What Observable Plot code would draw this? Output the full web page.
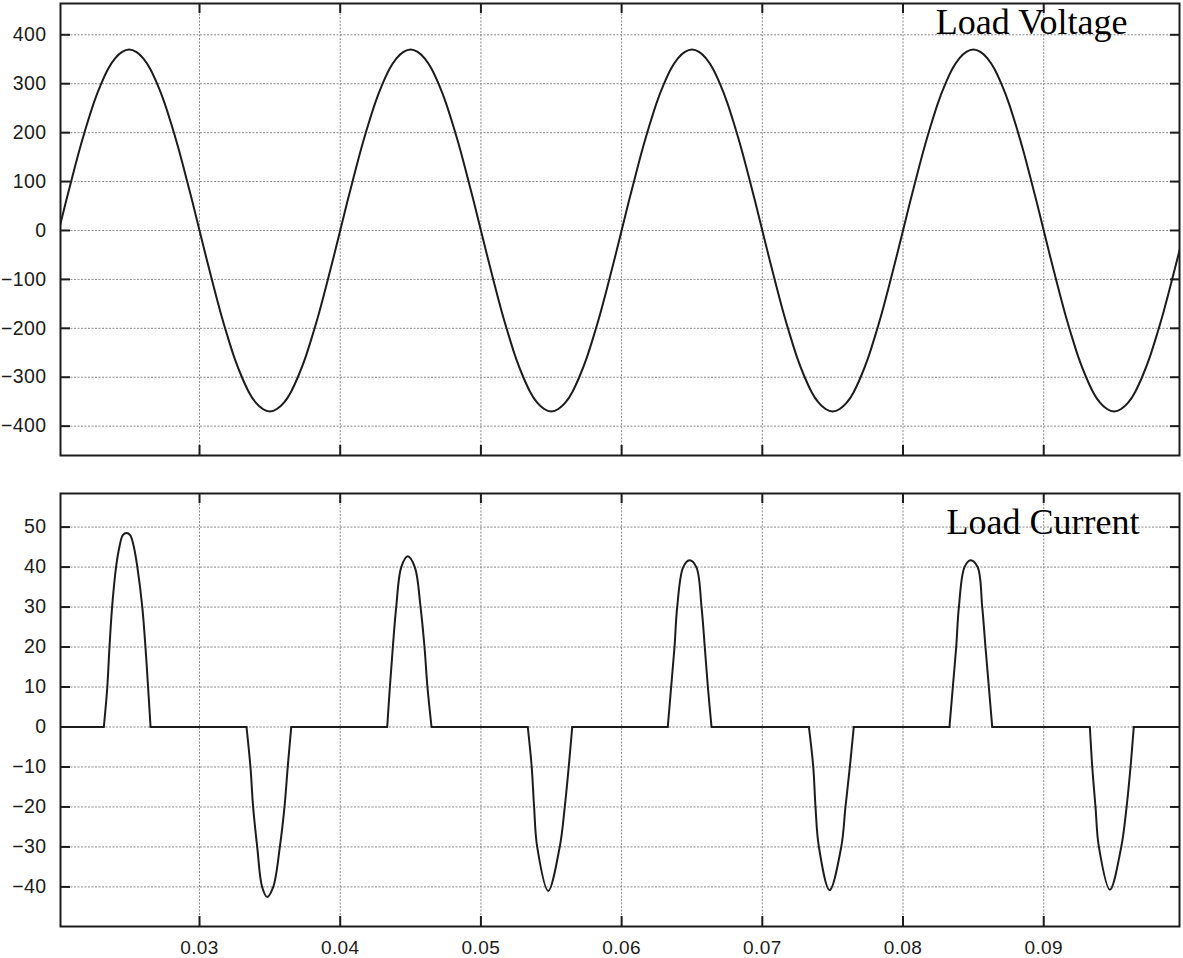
<!DOCTYPE html>
<html><head><meta charset="utf-8">
<script src="https://cdn.jsdelivr.net/npm/d3@7"></script>
<script src="https://cdn.jsdelivr.net/npm/@observablehq/plot@0.6"></script>
<style>
html,body{margin:0;padding:0;background:#fff;}
#chart svg{display:block;}
#chart g[aria-label$="tick label"] text{letter-spacing:0.4px;}
</style></head><body><div id="chart"></div>
<script>
// ---- data ----
const xDomain = [0.02012, 0.09965];
const xTicks = [0.03, 0.04, 0.05, 0.06, 0.07, 0.08, 0.09];
const xTickLabels = ["0.03", "0.04", "0.05", "0.06", "0.07", "0.08", "0.09"];
const vTicks = [-400, -300, -200, -100, 0, 100, 200, 300, 400];
const iTicks = [-40, -30, -20, -10, 0, 10, 20, 30, 40, 50];
const vDomain = [-460, 464];
const iDomain = [-49.9, 58.4];

// load voltage, sampled every 0.5 ms starting at t = 0.02 s
const vStart = 0.02, vStep = 0.0005;
const voltage = [
  0, 58, 114, 168, 217, 262, 299, 330, 352, 365, 370, 365, 352, 330, 299, 262, 217, 168, 114, 58,
  0, -58, -114, -168, -217, -262, -299, -330, -352, -365, -370, -365, -352, -330, -299, -262, -217, -168, -114, -58,
  0, 58, 114, 168, 217, 262, 299, 330, 352, 365, 370, 365, 352, 330, 299, 262, 217, 168, 114, 58,
  0, -58, -114, -168, -217, -262, -299, -330, -352, -365, -370, -365, -352, -330, -299, -262, -217, -168, -114, -58,
  0, 58, 114, 168, 217, 262, 299, 330, 352, 365, 370, 365, 352, 330, 299, 262, 217, 168, 114, 58,
  0, -58, -114, -168, -217, -262, -299, -330, -352, -365, -370, -365, -352, -330, -299, -262, -217, -168, -114, -58,
  0, 58, 114, 168, 217, 262, 299, 330, 352, 365, 370, 365, 352, 330, 299, 262, 217, 168, 114, 58,
  0, -58, -114, -168, -217, -262, -299, -330, -352, -365, -370, -365, -352, -330, -299, -262, -217, -168, -114, -58,
  0
];

// load current (time, amps)
const currentT = [
  0.02,
  0.02320, 0.02344, 0.02360, 0.02379, 0.02408, 0.02431, 0.02455, 0.02481, 0.02507, 0.02533, 0.02557, 0.02593, 0.02616, 0.02635, 0.02652,
  0.03334, 0.03362, 0.03381, 0.03410, 0.03445, 0.03481, 0.03524, 0.03571, 0.03604, 0.03627, 0.03652,
  0.04334, 0.04353, 0.04374, 0.04398, 0.04434, 0.04480, 0.04530, 0.04571, 0.04599, 0.04620, 0.04649,
  0.05333, 0.05361, 0.05378, 0.05400, 0.05478, 0.05560, 0.05596, 0.05624, 0.05649,
  0.06328, 0.06352, 0.06376, 0.06395, 0.06438, 0.06483, 0.06531, 0.06568, 0.06591, 0.06613, 0.06639,
  0.07331, 0.07362, 0.07378, 0.07402, 0.07478, 0.07561, 0.07591, 0.07622, 0.07650,
  0.08330, 0.08354, 0.08378, 0.08397, 0.08437, 0.08480, 0.08530, 0.08563, 0.08586, 0.08610, 0.08634,
  0.09328, 0.09345, 0.09368, 0.09392, 0.09470, 0.09551, 0.09589, 0.09617, 0.09640,
  0.1
];
const currentI = [
  0,
  0, 9.7, 19.9, 30.1, 40.3, 45.1, 48.0, 48.5, 48.0, 45.1, 40.3, 30.1, 19.9, 9.7, 0,
  0, -10, -20, -30, -40, -42.5, -40, -30, -20, -10, 0,
  0, 10, 20, 30, 40, 42.7, 40, 30, 20, 10, 0,
  0, -10, -20, -30, -41, -30, -20, -10, 0,
  0, 10, 20, 30, 40, 41.7, 40, 30, 20, 10, 0,
  0, -10, -20, -30, -40.8, -30, -20, -10, 0,
  0, 10, 20, 30, 40, 41.7, 40, 30, 20, 10, 0,
  0, -10, -20, -30, -40.7, -30, -20, -10, 0,
  0
];

// ---- tables for the library ----
const vData = voltage.map((v, i) => ({t: vStart + i * vStep, v, seg: 0}));

// split the current trace into flat (zero) pieces and pulse pieces,
// so each pulse can be drawn with a smooth curve while the baseline stays straight
const iData = [];
{
  let seg = 0, cur = null;
  for (let k = 0; k < currentT.length - 1; k++) {
    const flat = currentI[k] === 0 && currentI[k + 1] === 0;
    const kind = flat ? "flat" : "pulse";
    if (kind !== cur) { seg++; cur = kind; iData.push({t: currentT[k], v: currentI[k], seg}); }
    iData.push({t: currentT[k + 1], v: currentI[k + 1], seg});
  }
}

const W = 1183, ML = 60, MR = 4;
const ink = "#1c1c1c";
const gridStyle = {stroke: "#8a8a8a", strokeOpacity: 1, strokeWidth: 1, strokeDasharray: "2,1.5"};
const tickStyle = {stroke: ink, strokeWidth: 2};

function panel({data, yDomain, yTicks, curve, title, dx, dy, height, marginTop, marginBottom, showX}) {
  const plotW = W - ML - MR;
  const plotH = height - marginTop - marginBottom;
  const marks = [
    Plot.gridX(xTicks, gridStyle),
    Plot.gridY(yTicks, gridStyle),
    Plot.axisY(yTicks, {tickSize: 0, tickPadding: 14, label: null, fill: ink, fontSize: 19.5}),
    Plot.tickX(xTicks, {x: d => d, insetBottom: plotH - 10, ...tickStyle}),
    Plot.tickX(xTicks, {x: d => d, insetTop: plotH - 10, ...tickStyle}),
    Plot.tickY(yTicks, {y: d => d, insetRight: plotW - 10, ...tickStyle}),
    Plot.tickY(yTicks, {y: d => d, insetLeft: plotW - 9, ...tickStyle}),
    Plot.line(data, {x: "t", y: "v", z: "seg", curve, stroke: ink, strokeWidth: 2, clip: true}),
    Plot.frame({stroke: ink, strokeWidth: 2}),
    Plot.text([title], {frameAnchor: "top-right", textAnchor: "end", lineAnchor: "bottom", dx, dy,
      fontFamily: "'Liberation Serif', 'Times New Roman', serif", fontSize: 36, fill: "#000"})
  ];
  if (showX) marks.push(Plot.axisX(xTicks, {tickSize: 0, tickPadding: 14, label: null, fill: ink, fontSize: 19,
    tickFormat: d => xTickLabels[xTicks.indexOf(d)]}));
  return Plot.plot({
    width: W, height, marginTop, marginBottom, marginLeft: ML, marginRight: MR,
    style: {fontFamily: "'Liberation Sans', Arial, sans-serif", fontSize: "20px", background: "#fff"},
    x: {domain: xDomain, axis: null, label: null},
    y: {domain: yDomain, axis: null, label: null},
    marks
  });
}

const chart = document.getElementById("chart");
chart.append(panel({data: vData, yDomain: vDomain, yTicks: vTicks, curve: "natural",
  title: "Load Voltage", dx: -52, dy: 30, height: 460, marginTop: 3, marginBottom: 5, showX: false}));
chart.append(panel({data: iData, yDomain: iDomain, yTicks: iTicks, curve: "catmull-rom",
  title: "Load Current", dx: -40, dy: 40, height: 498, marginTop: 33, marginBottom: 32, showX: true}));
</script></body></html>
